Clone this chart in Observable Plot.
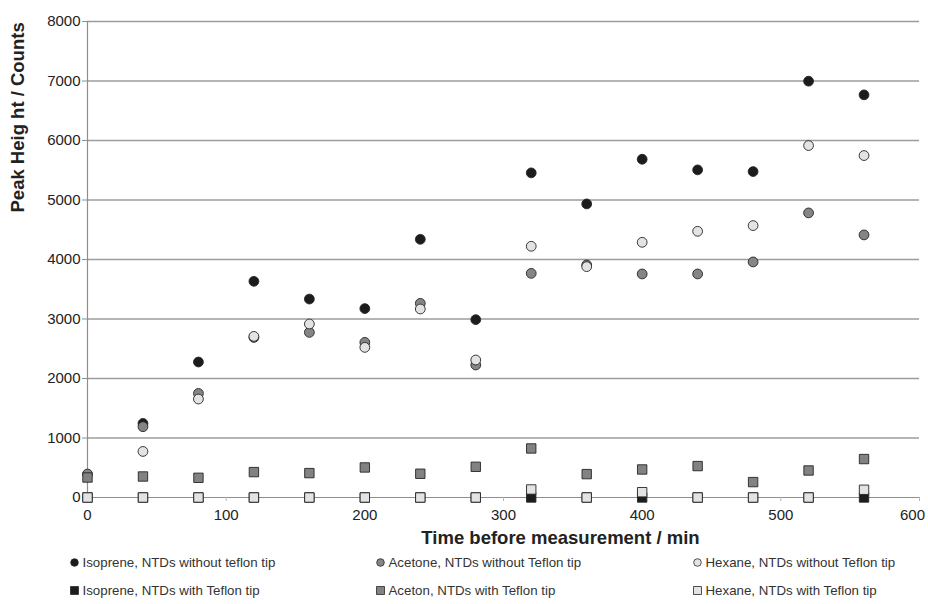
<!DOCTYPE html>
<html>
<head>
<meta charset="utf-8">
<script src="https://cdn.jsdelivr.net/npm/d3@7"></script>
<script src="https://cdn.jsdelivr.net/npm/@observablehq/plot@0.6"></script>
<style>
  body { margin: 0; background: #fff; font-family: "Liberation Sans", Arial, sans-serif; }
  #wrap { width: 928px; }
  #legend { position: relative; width: 928px; height: 56px; }
  .item { position: absolute; display: flex; align-items: center; gap: 4px; height: 16px; font-size: 13.3px; color: #333; white-space: nowrap; }
  .item svg { display: block; }
</style>
</head>
<body>
<div id="wrap"></div>
<script>
// ---- data ----
const times = [0, 40, 80, 120, 160, 200, 240, 280, 320, 360, 400, 440, 480, 520, 560];
const isopreneWithout = [null, 1245, 2277, 3633, 3335, 3175, 4339, 2989, 5456, 4934, 5685, 5506, 5478, 6997, 6767];
const acetoneWithout  = [395, 1190, 1749, 2690, 2775, 2607, 3263, 2227, 3767, 3908, 3757, 3757, 3959, 4783, 4413];
const hexaneWithout   = [null, 774, 1655, 2708, 2916, 2523, 3168, 2311, 4222, 3880, 4289, 4474, 4570, 5915, 5747];
const isopreneWith    = [0, 0, 0, 0, 0, 0, 0, 0, 0, 0, 0, 0, 0, 0, 0];
const acetonWith      = [336, 353, 331, 427, 410, 505, 399, 516, 824, 393, 471, 528, 259, 454, 646];
const hexaneWith      = [0, 0, 0, 0, 0, 0, 0, 0, 135, 0, 89, 0, 0, 0, 130];

const seriesNames = [
  "Isoprene, NTDs without teflon tip",
  "Acetone, NTDs without Teflon tip",
  "Hexane, NTDs without Teflon tip",
  "Isoprene, NTDs with Teflon tip",
  "Aceton, NTDs with Teflon tip",
  "Hexane, NTDs with Teflon tip"
];
const seriesValues = [isopreneWithout, acetoneWithout, hexaneWithout, isopreneWith, acetonWith, hexaneWith];
const seriesSymbols = ["circle", "circle", "circle", "square", "square", "square"];
const seriesFills = ["#1c1c1c", "#858585", "#e3e3e3", "#1c1c1c", "#828282", "#e3e3e3"];

const xTicks = [0, 100, 200, 300, 400, 500, 600];
const yTicks = [0, 1000, 2000, 3000, 4000, 5000, 6000, 7000, 8000];
const xTitle = "Time before measurement / min";
const yTitle = "Peak Heig ht / Counts";

// ---- table ----
const rows = seriesNames.flatMap((name, i) =>
  times.map((t, j) => ({
    series: name, order: i, time: t, value: seriesValues[i][j],
    symbol: seriesSymbols[i], fill: seriesFills[i]
  })).filter(d => d.value != null)
);

// one dot mark per series, drawn in series order (later series on top)
const dotMarks = seriesNames.map((name, i) =>
  Plot.dot(rows.filter(d => d.order === i), {
    x: "time", y: "value",
    symbol: seriesSymbols[i],
    fill: seriesFills[i],
    r: seriesSymbols[i] === "square" ? 5.3 : 4.9,
    stroke: "#262626",
    strokeWidth: 0.9
  })
);

const chart = Plot.plot({
  width: 928,
  height: 548,
  marginLeft: 87,
  marginRight: 9,
  marginTop: 21,
  marginBottom: 51,
  style: { fontFamily: "'Liberation Sans', Arial, sans-serif", fontSize: "15px", color: "#222", background: "#fff" },
  x: { domain: [0, 600] },
  y: { domain: [0, 8000] },
  marks: [
    Plot.gridY(yTicks.filter(d => d > 0), { stroke: "#9c9c9c", strokeOpacity: 1, strokeWidth: 1.3 }),
    Plot.ruleX([0], { y1: 0, y2: 8000, stroke: "#8e8e8e", strokeWidth: 1.2 }),
    Plot.ruleY([0], { stroke: "#8e8e8e", strokeWidth: 1.2 }),
    Plot.axisY({ ticks: yTicks, tickSize: 5, tickPadding: 2, label: null, stroke: "#8e8e8e", tickFormat: d => String(d), fill: "#222" }),
    Plot.axisX({ ticks: xTicks, tickSize: 4, tickPadding: 8, label: null, stroke: "#b5b5b5", tickFormat: d => d === 600 ? "" : String(d), fill: "#222" }),
    Plot.axisX({ ticks: xTicks.slice(-1), tickSize: 0, tickPadding: 12, label: null, dx: -7, tickFormat: d => String(d), fill: "#222" }),
    ...dotMarks,
    Plot.text([yTitle], { frameAnchor: "left", rotate: -90, dx: -69, dy: -47, fontWeight: "bold", fontSize: 18.5, fill: "#222" }),
    Plot.text([xTitle], { frameAnchor: "bottom", lineAnchor: "middle", dx: 57, dy: 41, fontWeight: "bold", fontSize: 18.5, fill: "#222" })
  ]
});

const wrap = document.getElementById("wrap");
wrap.appendChild(chart);

// ---- legend ----
const legend = document.createElement("div");
legend.id = "legend";
wrap.appendChild(legend);
const colCenters = [74, 380, 697];
const rowCenters = [14, 42];
seriesNames.forEach((name, i) => {
  const col = i % 3, row = Math.floor(i / 3);
  const item = document.createElement("div");
  item.className = "item";
  item.style.left = (colCenters[col] - 4.5) + "px";
  item.style.top = (rowCenters[row] - 8) + "px";
  const svg = d3.create("svg").attr("width", 9).attr("height", 9);
  if (seriesSymbols[i] === "circle") {
    svg.append("circle").attr("cx", 4.5).attr("cy", 4.5).attr("r", 3.8)
      .attr("fill", seriesFills[i]).attr("stroke", "#262626").attr("stroke-width", 0.8);
  } else {
    svg.append("rect").attr("x", 0.6).attr("y", 0.6).attr("width", 7.8).attr("height", 7.8)
      .attr("fill", seriesFills[i]).attr("stroke", "#262626").attr("stroke-width", 0.8);
  }
  item.appendChild(svg.node());
  const span = document.createElement("span");
  span.textContent = name;
  item.appendChild(span);
  legend.appendChild(item);
});
</script>
</body>
</html>
